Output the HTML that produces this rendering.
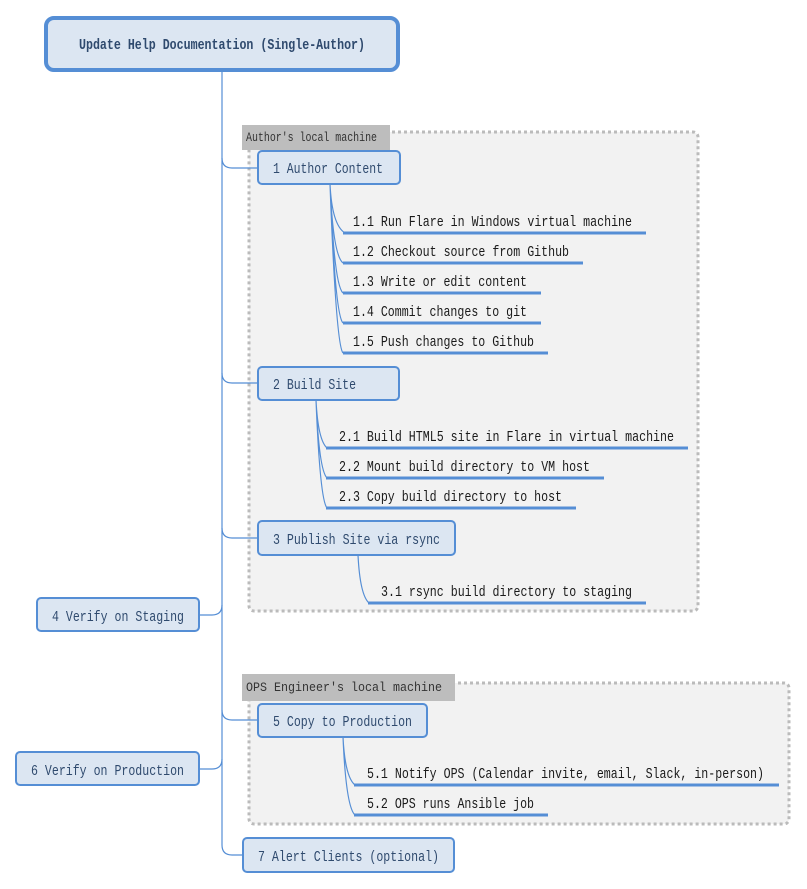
<!DOCTYPE html>
<html><head><meta charset="utf-8"><style>
html,body{margin:0;padding:0;background:#fff;}
svg{display:block;}
text{font-family:"Liberation Mono",monospace;font-size:15px;}
.n{fill:#2f4a6e;}
.s{fill:#1a1a1a;}
.l{fill:#333;font-size:13px;}
.box{fill:#dce6f2;stroke:#558ed5;stroke-width:2;}
.ln{fill:none;stroke:#558ed5;stroke-width:1.2;}
.ul{stroke:#558ed5;stroke-width:3;}
.grp{fill:#f2f2f2;stroke:#bbb;stroke-width:3;stroke-dasharray:3 3;}
</style></head><body>
<svg width="807" height="889" viewBox="0 0 807 889">
<rect class="grp" x="249" y="132" width="449" height="479" rx="5"/>
<rect x="242" y="125" width="148" height="25" fill="#bdbdbd"/>
<text class="l" x="246" y="141" textLength="131" lengthAdjust="spacingAndGlyphs">Author's local machine</text>
<rect class="grp" x="249" y="683" width="540" height="141" rx="5"/>
<rect x="242" y="674" width="213" height="27" fill="#bdbdbd"/>
<text class="l" x="246" y="691" textLength="196" lengthAdjust="spacingAndGlyphs">OPS Engineer's local machine</text>

<path class="ln" d="M222 71 V845 Q222 855 232 855 H243"/>
<path class="ln" d="M222 158 Q222 168 232 168 H258"/>
<path class="ln" d="M222 373 Q222 383 232 383 H258"/>
<path class="ln" d="M222 528 Q222 538 232 538 H258"/>
<path class="ln" d="M222 605 Q222 615 212 615 H199"/>
<path class="ln" d="M222 710 Q222 720 232 720 H258"/>
<path class="ln" d="M222 759 Q222 769 212 769 H199"/>

<rect x="46" y="18" width="352" height="52" rx="8" fill="#dce6f2" stroke="#558ed5" stroke-width="4"/>
<text x="79" y="49" class="n" font-weight="bold" textLength="286" lengthAdjust="spacingAndGlyphs">Update Help Documentation (Single-Author)</text>

<path class="ln" d="M330 184 Q332 225 345 233 M330 184 Q333 255 343 263 M330 184 Q334 285 343 293 M330 184 Q335 315 343 323 M330 184 Q336 345 343 353"/>
<line class="ul" x1="343" y1="233" x2="646" y2="233"/>
<line class="ul" x1="343" y1="263" x2="583" y2="263"/>
<line class="ul" x1="343" y1="293" x2="541" y2="293"/>
<line class="ul" x1="343" y1="323" x2="541" y2="323"/>
<line class="ul" x1="343" y1="353" x2="548" y2="353"/>
<text class="s" x="353" y="226" textLength="279" lengthAdjust="spacingAndGlyphs">1.1 Run Flare in Windows virtual machine</text>
<text class="s" x="353" y="256" textLength="216" lengthAdjust="spacingAndGlyphs">1.2 Checkout source from Github</text>
<text class="s" x="353" y="286" textLength="174" lengthAdjust="spacingAndGlyphs">1.3 Write or edit content</text>
<text class="s" x="353" y="316" textLength="174" lengthAdjust="spacingAndGlyphs">1.4 Commit changes to git</text>
<text class="s" x="353" y="346" textLength="181" lengthAdjust="spacingAndGlyphs">1.5 Push changes to Github</text>
<rect class="box" x="258" y="151" width="142" height="33" rx="4"/>
<text class="n" x="273" y="173" textLength="110" lengthAdjust="spacingAndGlyphs">1 Author Content</text>

<path class="ln" d="M316 400 Q318 440 327 448 M316 400 Q319 470 327 478 M316 400 Q320 500 327 508"/>
<line class="ul" x1="326" y1="448" x2="688" y2="448"/>
<line class="ul" x1="326" y1="478" x2="604" y2="478"/>
<line class="ul" x1="326" y1="508" x2="576" y2="508"/>
<text class="s" x="339" y="441" textLength="335" lengthAdjust="spacingAndGlyphs">2.1 Build HTML5 site in Flare in virtual machine</text>
<text class="s" x="339" y="471" textLength="251" lengthAdjust="spacingAndGlyphs">2.2 Mount build directory to VM host</text>
<text class="s" x="339" y="501" textLength="223" lengthAdjust="spacingAndGlyphs">2.3 Copy build directory to host</text>
<rect class="box" x="258" y="367" width="141" height="33" rx="4"/>
<text class="n" x="273" y="389" textLength="83" lengthAdjust="spacingAndGlyphs">2 Build Site</text>

<path class="ln" d="M358 555 Q360 595 369 603"/>
<line class="ul" x1="368" y1="603" x2="646" y2="603"/>
<text class="s" x="381" y="596" textLength="251" lengthAdjust="spacingAndGlyphs">3.1 rsync build directory to staging</text>
<rect class="box" x="258" y="521" width="197" height="34" rx="4"/>
<text class="n" x="273" y="544" textLength="167" lengthAdjust="spacingAndGlyphs">3 Publish Site via rsync</text>

<rect class="box" x="37" y="598" width="162" height="33" rx="4"/>
<text class="n" x="52" y="621" textLength="132" lengthAdjust="spacingAndGlyphs">4 Verify on Staging</text>

<path class="ln" d="M343 737 Q345 777 355 785 M343 737 Q346 807 355 815"/>
<line class="ul" x1="354" y1="785" x2="779" y2="785"/>
<line class="ul" x1="354" y1="815" x2="548" y2="815"/>
<text class="s" x="367" y="778" textLength="397" lengthAdjust="spacingAndGlyphs">5.1 Notify OPS (Calendar invite, email, Slack, in-person)</text>
<text class="s" x="367" y="808" textLength="167" lengthAdjust="spacingAndGlyphs">5.2 OPS runs Ansible job</text>
<rect class="box" x="258" y="704" width="169" height="33" rx="4"/>
<text class="n" x="273" y="726" textLength="139" lengthAdjust="spacingAndGlyphs">5 Copy to Production</text>

<rect class="box" x="16" y="752" width="183" height="33" rx="4"/>
<text class="n" x="31" y="775" textLength="153" lengthAdjust="spacingAndGlyphs">6 Verify on Production</text>

<rect class="box" x="243" y="838" width="211" height="34" rx="4"/>
<text class="n" x="258" y="861" textLength="181" lengthAdjust="spacingAndGlyphs">7 Alert Clients (optional)</text>
</svg>
</body></html>
